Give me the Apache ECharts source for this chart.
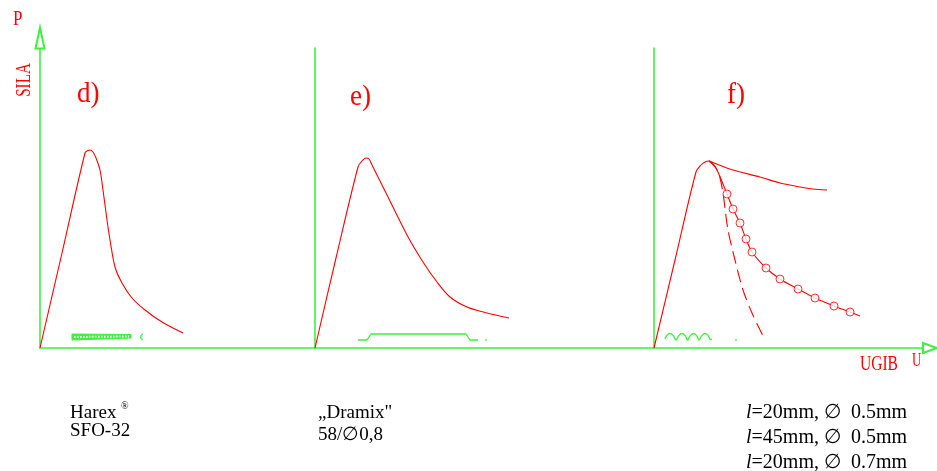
<!DOCTYPE html>
<html><head><meta charset="utf-8">
<script src="https://cdn.jsdelivr.net/npm/echarts@6/dist/echarts.min.js"></script>
<style>html,body{margin:0;padding:0;background:#fff}#c{width:937px;height:471px}</style>
</head><body><div id="c"></div>
<script>
// ---- data: [U (ugib), P (sila)] in drawing units ----
// panel d) Harex SFO-32
const dCurve = [[0,0],[22,95],[45,195],[48,197.5],[50,198],[53,196],[56,190],[60,178],[63,158],[67,128],[70,108],[75,81],[82,65],[92,50],[105,38],[122,26],[143,15]];
// panel e) Dramix 58/0,8
const eCurve = [[0,0],[21,90],[43,181],[47,187],[51,190],[54,189],[57,183],[72,153],[92,113],[108,86],[122,66],[135,51],[152,41],[172,35],[194,30]];
// panel f) three fibre types
const fRise = [[0,0],[21,88],[42,176],[47,183],[51,186],[55,187],[60,185],[79,178],[106,171],[126,165],[146,161],[159,159],[173,158]];
const fDrop = [[55,187],[60,183],[64,176],[73,154],[79,139],[86,125],[92,109],[98,96],[112,80],[126,69],[144,59],[161,50],[180,42],[196,36],[206,32]];
const fDropMarks = [[73,154],[79,139],[86,125],[92,109],[98,96],[112,80],[126,69],[144,59],[161,50],[180,42],[196,36]];
const fDashed = [[55,187],[62,180],[66,170],[69,155],[74,118],[81,88],[89,58],[98,35],[110,10]];
// fibre sketches (green)
const dBar = [[32,8],[32,14],[91,13.5],[91,10]];
const dBarDots = [[34,11],[89,11.5]];
const dHook = [[103,14],[100.5,11],[103,8]];
const eFibre = [[43,8],[52,8],[56,14],[151,14],[155,8],[163,8]];
const eDot = [[171,8]];
const fWave = [[11,9],[12.5,12],[16,14.5],[19.5,12],[22,8],[24.5,12],[28,14.5],[31.5,12],[33.5,8],[36,12],[39.5,14.5],[43,12],[45,8],[47.5,12],[51,14.5],[54.5,12],[56.5,8.5],[58,9]];
const fDot = [[82,8]];
// text
const panelLabels = ['d)','e)','f)'];
const captionD = ['Harex', 'SFO-32'];
const captionE = ['„Dramix"', '58/∅0,8'];
const captionF = [['20','0.5'],['45','0.5'],['20','0.7']];

const RED = '#ff0000', GREEN = '#3ff03f';
const FONT = '"Liberation Serif","Times New Roman",serif';

const chart = echarts.init(document.getElementById('c'), null, {renderer:'canvas'});
const axisBase = {type:'value', axisTick:{show:false}, axisLabel:{show:false}, splitLine:{show:false}};
const axLine = (extra) => Object.assign({show:true, lineStyle:{color:GREEN, width:1.6}}, extra || {});

function curve(data, gi, extra) {
  return Object.assign({type:'line', xAxisIndex:gi, yAxisIndex:gi, data:data, smooth:0.3,
    symbol:'none', lineStyle:{color:RED, width:1.1}, silent:true, z:3}, extra || {});
}
function sketch(data, gi, extra) {
  return Object.assign({type:'line', xAxisIndex:gi, yAxisIndex:gi, data:data, symbol:'none',
    lineStyle:{color:GREEN, width:1.3}, silent:true, z:2}, extra || {});
}

const graphic = [];
const txt = (text, x, y, size, color, o) => graphic.push(Object.assign({type:'text', x:x, y:y, silent:true,
  style:Object.assign({text:text, font: size + 'px ' + FONT, fill:color, align:'left', verticalAlign:'middle'}, (o && o.style) || {})},
  o ? {scaleX:o.scaleX, rotation:o.rotation} : {}));

txt('P', 13, 20, 20, RED, {scaleX:0.85});
txt('SILA', 24, 80, 21, RED, {scaleX:0.72, rotation:Math.PI/2, style:{align:'center'}});
txt(panelLabels[0], 77, 94, 30, RED, {scaleX:0.9});
txt(panelLabels[1], 350, 97, 30, RED, {scaleX:0.9});
txt(panelLabels[2], 727, 95, 30, RED, {scaleX:0.9});
txt('UGIB', 860, 364, 21, RED, {scaleX:0.74});
txt('U', 912, 361, 18, RED, {scaleX:0.72});
txt(captionD[0], 70, 413, 19, '#000');
txt('®', 121, 406, 10, '#000');
txt(captionD[1], 70, 431, 19, '#000');
txt(captionE[0], 318, 413, 19, '#000');
txt(captionE[1], 318, 435, 19, '#000');
const ys = [413, 437.5, 463];
captionF.forEach((c, i) => graphic.push({type:'text', x:746, y:ys[i], silent:true,
  style:{text:'{i|l}=' + c[0] + 'mm, ∅  ' + c[1] + 'mm', font:'20px ' + FONT, fill:'#000', verticalAlign:'middle',
    rich:{i:{fontStyle:'italic', fontSize:20, fontFamily:FONT, fill:'#000'}}}}));

chart.setOption({
  animation:false,
  backgroundColor:'#fff',
  grid:[
    {left:40, top:38, width:275, height:310},
    {left:315, top:48, width:339, height:300},
    {left:654, top:48, width:276, height:300}
  ],
  xAxis:[
    Object.assign({gridIndex:0, min:0, max:275, axisLine:axLine()}, axisBase),
    Object.assign({gridIndex:1, min:0, max:339, axisLine:axLine()}, axisBase),
    Object.assign({gridIndex:2, min:0, max:276, axisLine:axLine({symbol:['none','emptyTriangle'], symbolSize:[10,14]})}, axisBase)
  ],
  yAxis:[
    Object.assign({gridIndex:0, min:0, max:310, axisLine:axLine({symbol:['none','emptyTriangle'], symbolSize:[9,21]})}, axisBase),
    Object.assign({gridIndex:1, min:0, max:300, axisLine:axLine()}, axisBase),
    Object.assign({gridIndex:2, min:0, max:300, axisLine:axLine()}, axisBase)
  ],
  series:[
    curve(dCurve, 0),
    curve(eCurve, 1),
    curve(fRise, 2),
    curve(fDrop, 2),
    {type:'scatter', xAxisIndex:2, yAxisIndex:2, data:fDropMarks, symbol:'circle', symbolSize:8,
      itemStyle:{color:'#fff', borderColor:RED, borderWidth:1}, silent:true, z:4},
    curve(fDashed, 2, {lineStyle:{color:RED, width:1.1, type:[13,6]}}),
    {type:'custom', xAxisIndex:0, yAxisIndex:0, data:[[0,0]], silent:true, z:2,
      renderItem:(p, api) => ({type:'group', children:[
        {type:'polygon', shape:{points:dBar.map(pt => api.coord(pt))}, style:{fill:GREEN, stroke:GREEN, lineWidth:1}},
        {type:'polyline', shape:{points:dBarDots.map(pt => api.coord(pt))}, style:{stroke:'#fff', fill:null, lineWidth:2, lineDash:[1.5,1.5]}}
      ]})},
    sketch(dHook, 0, {smooth:true}),
    sketch(eFibre, 1),
    {type:'scatter', xAxisIndex:1, yAxisIndex:1, data:eDot, symbolSize:2, itemStyle:{color:GREEN}, silent:true},
    sketch(fWave, 2, {smooth:true}),
    {type:'scatter', xAxisIndex:2, yAxisIndex:2, data:fDot, symbolSize:2, itemStyle:{color:GREEN}, silent:true}
  ],
  graphic:graphic
});
</script></body></html>
